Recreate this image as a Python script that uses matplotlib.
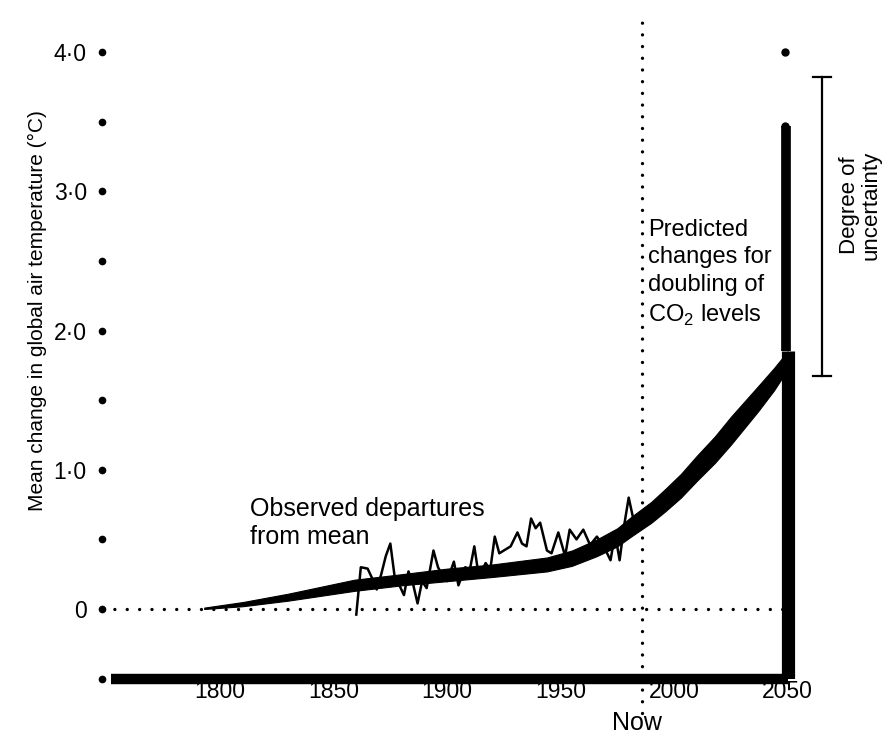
import numpy as np
import matplotlib.pyplot as plt

plt.rcParams['font.family'] = ['Liberation Sans', 'DejaVu Sans']
plt.rcParams['mathtext.fontset'] = 'custom'
plt.rcParams['mathtext.rm'] = 'Liberation Sans'

# predicted trend band (lower / upper edge)
trend_years = [1793, 1810, 1830, 1859, 1880, 1900, 1920, 1944, 1955, 1966, 1975,
               1981, 1990, 1996, 2003, 2010, 2018, 2025, 2031, 2037, 2044, 2050]
trend_low = [0.0, 0.02, 0.06, 0.13, 0.17, 0.20, 0.23, 0.27, 0.31, 0.38, 0.45,
             0.52, 0.62, 0.70, 0.80, 0.92, 1.05, 1.18, 1.30, 1.42, 1.57, 1.72]
trend_high = [0.01, 0.05, 0.11, 0.21, 0.25, 0.29, 0.32, 0.37, 0.42, 0.50, 0.58,
              0.66, 0.77, 0.86, 0.97, 1.10, 1.24, 1.38, 1.49, 1.60, 1.73, 1.85]

# observed departures from mean
obs_years = [1860, 1862, 1865, 1867, 1869, 1871, 1873, 1875, 1877, 1879, 1881, 1883,
             1885, 1887, 1889, 1891, 1894, 1896, 1898, 1900, 1903, 1905, 1908, 1910,
             1912, 1914, 1917, 1919, 1921, 1923, 1926, 1928, 1931, 1933, 1935, 1937,
             1939, 1941, 1944, 1946, 1949, 1952, 1954, 1957, 1960, 1963, 1966, 1969,
             1972, 1974, 1976, 1978, 1980, 1982]
obs_vals = [-0.04, 0.30, 0.29, 0.22, 0.14, 0.25, 0.38, 0.47, 0.22, 0.17, 0.10, 0.27,
            0.18, 0.04, 0.20, 0.15, 0.42, 0.30, 0.24, 0.20, 0.34, 0.17, 0.30, 0.28,
            0.45, 0.23, 0.33, 0.28, 0.52, 0.40, 0.43, 0.45, 0.55, 0.47, 0.45, 0.65,
            0.58, 0.62, 0.42, 0.40, 0.55, 0.38, 0.57, 0.50, 0.57, 0.46, 0.52, 0.45,
            0.35, 0.54, 0.35, 0.60, 0.80, 0.65]

x_ticks = [1800, 1850, 1900, 1950, 2000, 2050]
x_labels = ['1800', '1850', '1900', '1950', '2000', '2050']
y_ticks = [0, 1, 2, 3, 4]
y_labels = ['0', '1·0', '2·0', '3·0', '4·0']
y_dots = [-0.5, 0, 0.5, 1.0, 1.5, 2.0, 2.5, 3.0, 3.5, 4.0]

now_year = 1986
end_year = 2050
bar_top = 3.47
uncert_low, uncert_high = 1.67, 3.82

fig = plt.figure(figsize=(8.88, 7.37), dpi=100)
ax = fig.add_axes([0.1149, 0.0792, 0.8615, 0.9069])
ax.set_xlim(1748, 2085)
ax.set_ylim(-0.5, 4.3)
for s in ax.spines.values():
    s.set_visible(False)

# zero line and "now" line (dotted)
ax.plot([1748, end_year], [0, 0], color='k', lw=2.4, ls=(0, (0.01, 3.7)),
        dash_capstyle='round', clip_on=False)
ax.plot([now_year, now_year], [-0.75, 4.28], color='k', lw=2.4, ls=(0, (0.01, 3.5)),
        dash_capstyle='round', clip_on=False)

# trend band and observations
ax.fill_between(trend_years, trend_low, trend_high, color='k', lw=0.8)
ax.plot(obs_years, obs_vals, color='k', lw=1.8)

# base line and the 2050 bar
ax.plot([1752, end_year], [-0.5, -0.5], color='k', lw=7.5, solid_capstyle='butt', clip_on=False)
ax.plot([end_year, end_year], [-0.5, 1.85], color='k', lw=9.5, solid_capstyle='butt')
ax.plot([end_year - 0.5, end_year - 0.5], [1.85, bar_top], color='k', lw=7, solid_capstyle='butt')
ax.plot([end_year - 1], [bar_top], 'o', color='k', ms=5)
ax.plot([end_year - 1], [4.0], 'o', color='k', ms=5)

# uncertainty bracket
ux = 2065
ax.plot([ux, ux], [uncert_low, uncert_high], color='k', lw=1.6)
ax.plot([ux - 4, ux + 4], [uncert_high, uncert_high], color='k', lw=1.6)
ax.plot([ux - 4, ux + 4], [uncert_low, uncert_low], color='k', lw=1.6)

# y tick dots
ax.plot([1748] * len(y_dots), y_dots, 'o', color='k', ms=4.5, clip_on=False)

ax.set_xticks(x_ticks, x_labels, fontsize=16.5)
ax.set_yticks(y_ticks, y_labels, fontsize=16.5)
ax.tick_params(axis='x', length=0, pad=1)
ax.tick_params(axis='y', length=0, pad=11)
ax.set_ylabel('Mean change in global air temperature (°C)', fontsize=15)
ax.yaxis.set_label_coords(-0.072, 0.55)

ax.text(1813, 0.62, 'Observed departures\nfrom mean', fontsize=18, va='center', ha='left',
        linespacing=1.2)
ax.text(1988.5, 2.41, 'Predicted\nchanges for\ndoubling of\nCO$_2$ levels', fontsize=17,
        va='center', ha='left', linespacing=1.35)
ax.text(2082, 2.90, 'Degree of\nuncertainty', fontsize=16, rotation=90, va='center',
        ha='center', linespacing=1.0, clip_on=False)
ax.text(1983.5, -0.82, 'Now', fontsize=18, ha='center', va='center', clip_on=False)

fig.savefig('out.png', dpi=100)
